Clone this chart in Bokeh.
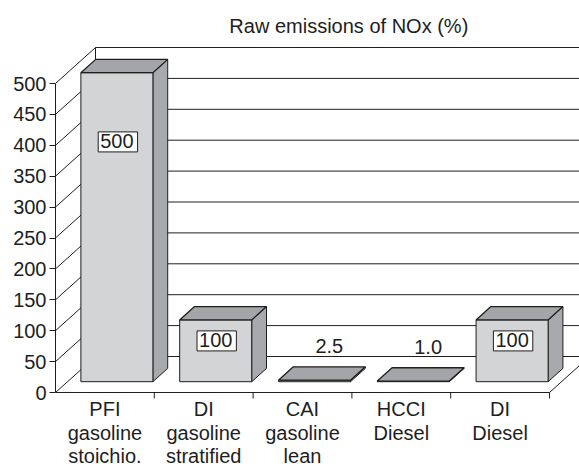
from bokeh.plotting import figure
from bokeh.models import Range1d, FixedTicker
from bokeh.core.properties import value
from bokeh.embed import file_html
from bokeh.resources import INLINE

# ---- data ----
categories = ["PFI\ngasoline\nstoichio.", "DI\ngasoline\nstratified",
              "CAI\ngasoline\nlean", "HCCI\nDiesel", "DI\nDiesel"]
values = [500, 100, 2.5, 1.0, 100]
y_ticks = [0, 50, 100, 150, 200, 250, 300, 350, 400, 450, 500]
title_text = "Raw emissions of NOx (%)"

# ---- layout / style ----
W, H = 579, 468
LEFT = 55
PX_X = 98.8          # px per category slot
PX_Y = 0.618         # px per value unit
ORIGIN_Y = 392       # canvas y of value 0
FONT = "Liberation Sans"
INK = "#1e1e1e"
FRONT = "#d3d4d6"
SIDE = "#a8a9ac"
TOP = "#a4a5a8"

DX = 40 / PX_X       # depth offset of back wall (x units)
DY = 36 / PX_Y       # depth offset of back wall (y units)
F1, F2 = 0.30, 0.67  # bar depth fractions
HALF = 0.729 / 2     # half bar width

x_range = Range1d(0, (W - LEFT) / PX_X)
y_range = Range1d(-(H - ORIGIN_Y) / PX_Y, ORIGIN_Y / PX_Y)

p = figure(width=W, height=H, x_range=x_range, y_range=y_range,
           x_axis_type=None, output_backend="svg", toolbar_location=None,
           min_border_left=LEFT, min_border_right=0, min_border_top=0,
           min_border_bottom=0)
p.ygrid.visible = False
p.outline_line_color = None
p.background_fill_color = "white"
p.border_fill_color = "white"

ymax = max(y_ticks)
ncat = len(categories)
XMAX = x_range.end + 1

# ---- walls & floor ----
xs, ys = [], []
for t in y_ticks:
    xs.append([0, DX]); ys.append([t, t + DY])            # side wall diagonals
    xs.append([DX, XMAX]); ys.append([t + DY, t + DY])    # back wall gridlines
xs.append([DX, DX]); ys.append([DY, ymax + DY])           # back wall left edge
xs.append([0, ncat]); ys.append([0, 0])                   # floor front edge
xs.append([ncat, ncat + DX]); ys.append([0, DY])          # floor right edge
tick_len = 6 / PX_Y
for k in range(1, ncat + 1):
    xs.append([k, k]); ys.append([0, -tick_len])
p.multi_line(xs, ys, line_color=INK, line_width=1)

# ---- bars ----
fx, fy, tx, ty, sx, sy = [], [], [], [], [], []
dxb, dyb = (F2 - F1) * DX, (F2 - F1) * DY
for i, v in enumerate(values):
    c = i + 0.5
    x0, x1 = c - HALF + F1 * DX, c + HALF + F1 * DX
    y0, y1 = F1 * DY, v + F1 * DY
    fx.append([x0, x1, x1, x0]); fy.append([y0, y0, y1, y1])
    tx.append([x0, x1, x1 + dxb, x0 + dxb]); ty.append([y1, y1, y1 + dyb, y1 + dyb])
    sx.append([x1, x1 + dxb, x1 + dxb, x1]); sy.append([y0, y0 + dyb, y1 + dyb, y1])
p.patches(sx, sy, fill_color=SIDE, line_color=INK, line_width=1)
p.patches(fx, fy, fill_color=FRONT, line_color=INK, line_width=1)
p.patches(tx, ty, fill_color=TOP, line_color=INK, line_width=1.3)

# ---- value labels ----
bx, by, bt, ux, uy, ut = [], [], [], [], [], []
for i, v in enumerate(values):
    c = i + 0.5
    if v >= 10:
        bx.append(c + F1 * DX + 0.01)
        by.append(0.805 * v - 14.5 + F1 * DY)
        bt.append(f"{v:.0f}")
    else:
        ux.append(c + F2 * DX)
        uy.append(v + F2 * DY + 34)
        ut.append(f"{v:.1f}")
p.text(x=bx, y=by, text=bt, text_font=value(FONT), text_font_size="20px",
       text_color=INK, text_align="center", text_baseline="middle",
       background_fill_color="white", border_line_color=INK,
       padding=(2, 4, 2, 4))
p.text(x=ux, y=uy, text=ut, text_font=value(FONT), text_font_size="20px",
       text_color=INK, text_align="center", text_baseline="middle")

# ---- category labels ----
cx, cy, ct = [], [], []
line_base = [(ORIGIN_Y - b) / PX_Y for b in (408, 432, 455)]
for i, cat in enumerate(categories):
    for j, line in enumerate(cat.split("\n")):
        cx.append(i + 0.5); cy.append(line_base[j]); ct.append(line)
p.text(x=cx, y=cy, text=ct, text_font=value(FONT), text_font_size="20px",
       text_color=INK, text_align="center", text_baseline="alphabetic")

# ---- title ----
p.text(x=[2.969], y=[(ORIGIN_Y - 25.7) / PX_Y], text=[title_text],
       text_font=value(FONT), text_font_size="20px", text_color=INK,
       text_align="center", text_baseline="alphabetic")

# ---- y axis ----
yax = p.yaxis[0]
yax.ticker = FixedTicker(ticks=y_ticks)
yax.bounds = (0, ymax)
yax.major_tick_out = 6
yax.major_tick_in = 0
yax.minor_tick_out = 0
yax.minor_tick_in = 0
yax.major_label_text_font = FONT
yax.major_label_text_font_size = "20px"
yax.major_label_text_color = INK
yax.major_label_standoff = 3
yax.axis_line_color = INK
yax.major_tick_line_color = INK

open("out.html", "w").write(file_html(p, INLINE))
